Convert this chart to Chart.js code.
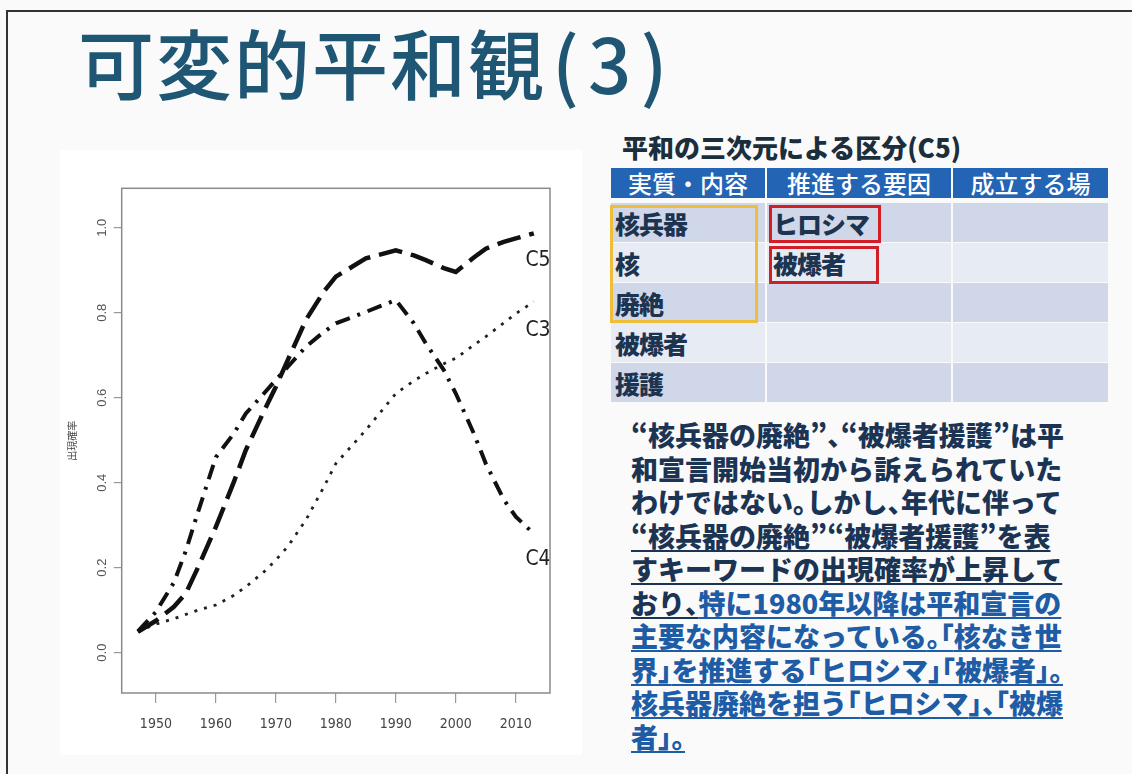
<!DOCTYPE html>
<html lang="ja">
<head>
<meta charset="utf-8">
<script src="https://cdn.jsdelivr.net/npm/chart.js@4"></script>
<style>
  html, body { margin:0; padding:0; }
  body { width:1132px; height:774px; position:relative; overflow:hidden; background:#fafafa; font-family:"Noto Sans CJK JP", sans-serif; }
  .frame { position:absolute; left:6px; top:10px; right:-4px; bottom:-4px; border-left:2px solid #333; border-top:2px solid #333; }
  .title { position:absolute; left:78px; top:23px; font-size:76px; line-height:76px; font-weight:500; color:#1e5673; white-space:nowrap; letter-spacing:2px; }
  .title .p { letter-spacing:9px; padding-left:6px; }
  .panel { position:absolute; left:60px; top:150px; width:522px; height:605px; background:#fff; }
  #chart { position:absolute; left:60px; top:150px; }
  .sub { position:absolute; left:622px; top:132px; font-size:26px; line-height:30px; font-weight:900; color:#1b2e3c; white-space:nowrap; letter-spacing:0; }
  .hdr { position:absolute; top:168px; height:30px; background:#2364b4; color:#fff; font-size:24px; line-height:30px; text-align:center; font-weight:500; white-space:nowrap; }
  .cell { position:absolute; height:39px; }
  .d { background:#cfd7e8; }
  .l { background:#e7ebf4; }
  .ct { position:absolute; font-size:25px; line-height:39px; font-weight:900; color:#1d3450; white-space:nowrap; letter-spacing:-1px; }
  .ybox { position:absolute; left:610px; top:205px; width:142px; height:112px; border:3px solid #eebd3a; }
  .rbox { position:absolute; border:3px solid #d21f26; }
  .para { position:absolute; left:631px; top:418px; font-size:27px; line-height:33.5px; font-weight:900; color:#1c3454; white-space:nowrap; letter-spacing:0; }
  .u { text-decoration:underline; text-decoration-thickness:2px; text-underline-offset:3px; }
  .b { color:#1e5ca6; }
  .h { font-feature-settings:"halt"; }
</style>
</head>
<body>
<div class="frame"></div>
<div class="title">可変的平和観<span class="p">(3)</span></div>
<div class="panel"></div>
<canvas id="chart" width="522" height="605"></canvas>

<div class="sub">平和の三次元による区分(C5)</div>
<div class="hdr" style="left:611px;width:154px;">実質・内容</div>
<div class="hdr" style="left:767px;width:184px;">推進する要因</div>
<div class="hdr" style="left:953px;width:155px;">成立する場</div>

<div class="cell d" style="left:611px;top:203px;width:154px;"></div>
<div class="cell d" style="left:767px;top:203px;width:184px;"></div>
<div class="cell d" style="left:953px;top:203px;width:155px;"></div>
<div class="cell l" style="left:611px;top:243px;width:154px;"></div>
<div class="cell l" style="left:767px;top:243px;width:184px;"></div>
<div class="cell l" style="left:953px;top:243px;width:155px;"></div>
<div class="cell d" style="left:611px;top:283px;width:154px;"></div>
<div class="cell d" style="left:767px;top:283px;width:184px;"></div>
<div class="cell d" style="left:953px;top:283px;width:155px;"></div>
<div class="cell l" style="left:611px;top:323px;width:154px;"></div>
<div class="cell l" style="left:767px;top:323px;width:184px;"></div>
<div class="cell l" style="left:953px;top:323px;width:155px;"></div>
<div class="cell d" style="left:611px;top:363px;width:154px;"></div>
<div class="cell d" style="left:767px;top:363px;width:184px;"></div>
<div class="cell d" style="left:953px;top:363px;width:155px;"></div>

<div class="ct" style="left:615px;top:204px;">核兵器</div>
<div class="ct" style="left:615px;top:244px;">核</div>
<div class="ct" style="left:615px;top:284px;">廃絶</div>
<div class="ct" style="left:615px;top:324px;">被爆者</div>
<div class="ct" style="left:615px;top:364px;">援護</div>
<div class="ct" style="left:773px;top:204px;">ヒロシマ</div>
<div class="ct" style="left:773px;top:244px;">被爆者</div>

<div class="ybox"></div>
<div class="rbox" style="left:769px;top:205px;width:106px;height:32px;"></div>
<div class="rbox" style="left:769px;top:246px;width:104px;height:32px;"></div>

<div class="para">“核兵器の廃絶”<span class="h">、</span>“被爆者援護”は平<br>和宣言開始当初から訴えられていた<br>わけではない<span class="h">。</span>しかし<span class="h">、</span>年代に伴って<br><span class="u">“核兵器の廃絶”“被爆者援護”を表</span><br><span class="u">すキーワードの出現確率が上昇して</span><br><span class="u">おり<span class="h">、</span></span><span class="u b">特に1980年以降は平和宣言の</span><br><span class="u b">主要な内容になっている<span class="h">。「</span>核なき世</span><br><span class="u b">界<span class="h">」</span>を推進する<span class="h">「</span>ヒロシマ<span class="h">」「</span>被爆者<span class="h">」。</span></span><br><span class="u b">核兵器廃絶を担う<span class="h">「</span>ヒロシマ<span class="h">」、「</span>被爆</span><br><span class="u b">者<span class="h">」。</span></span></div>

<script>
// ---- data ----
const years = [1947, 1950, 1953, 1955, 1957, 1960, 1963, 1965, 1968, 1970, 1972, 1975, 1978, 1980, 1985, 1990, 1993, 1995, 1998, 2000, 2003, 2005, 2008, 2010, 2013];
const c5Values = [0.049, 0.075, 0.108, 0.140, 0.200, 0.296, 0.402, 0.477, 0.568, 0.626, 0.689, 0.783, 0.850, 0.885, 0.928, 0.947, 0.935, 0.924, 0.905, 0.896, 0.930, 0.951, 0.967, 0.975, 0.987];
const c4Values = [0.050, 0.096, 0.165, 0.240, 0.330, 0.460, 0.516, 0.563, 0.610, 0.642, 0.673, 0.720, 0.755, 0.775, 0.802, 0.830, 0.775, 0.728, 0.665, 0.610, 0.516, 0.445, 0.360, 0.320, 0.280];
const c3Values = [0.050, 0.067, 0.080, 0.090, 0.100, 0.112, 0.135, 0.155, 0.190, 0.218, 0.250, 0.312, 0.390, 0.445, 0.524, 0.610, 0.640, 0.657, 0.680, 0.693, 0.724, 0.744, 0.776, 0.798, 0.826];
const seriesNames = ['C5', 'C4', 'C3'];
const labelYears = [2013.7, 2013.7, 2013.7];
const labelValues = [0.922, 0.218, 0.759];
const yTickValues = [0, 0.2, 0.4, 0.6, 0.8, 1.0];
const xTickYears = [1950, 1960, 1970, 1980, 1990, 2000, 2010];
const yAxisTitle = '出現確率';

const toPoints = vals => years.map((y, i) => ({ x: y, y: vals[i] }));

const framePlugin = {
  id: 'frame',
  afterDraw(chart) {
    const { ctx, chartArea: a } = chart;
    ctx.save();
    ctx.strokeStyle = '#8a8a8a';
    ctx.lineWidth = 1.5;
    ctx.strokeRect(a.left, a.top, a.right - a.left, a.bottom - a.top);
    ctx.restore();
  }
};

const seriesLabelPlugin = {
  id: 'seriesLabels',
  afterDatasetsDraw(chart) {
    const { ctx, scales: { x, y } } = chart;
    ctx.save();
    ctx.fillStyle = '#222';
    ctx.font = '21px "Liberation Sans Narrow", "DejaVu Sans Condensed", sans-serif';
    ctx.textAlign = 'center';
    ctx.textBaseline = 'middle';
    seriesNames.forEach((n, i) => {
      ctx.fillText(n, x.getPixelForValue(labelYears[i]), y.getPixelForValue(labelValues[i]));
    });
    ctx.restore();
  }
};

new Chart(document.getElementById('chart'), {
  type: 'line',
  data: {
    datasets: [
      { label: 'C5', data: toPoints(c5Values), borderColor: '#111', borderWidth: 4.5, borderDash: [24, 9], pointRadius: 0, tension: 0, fill: false },
      { label: 'C4', data: toPoints(c4Values), borderColor: '#111', borderWidth: 4, borderDash: [15, 8, 3, 8], pointRadius: 0, tension: 0, fill: false },
      { label: 'C3', data: toPoints(c3Values), borderColor: '#222', borderWidth: 2.8, borderDash: [3, 7], pointRadius: 0, tension: 0, fill: false }
    ]
  },
  options: {
    responsive: false,
    animation: false,
    devicePixelRatio: 1,
    layout: { padding: { left: 0, top: 38.3, right: 32, bottom: 0 } },
    plugins: { legend: { display: false }, tooltip: { enabled: false } },
    scales: {
      x: {
        type: 'linear',
        min: 1944.3, max: 2015.7,
        afterFit: s => { s.height = 62; },
        afterBuildTicks: s => { s.ticks = xTickYears.map(v => ({ value: v })); },
        border: { display: false },
        grid: { drawOnChartArea: false, drawTicks: true, tickLength: 10, color: '#999', lineWidth: 1.2 },
        ticks: { padding: 13, color: '#444', font: { family: '"Liberation Sans Narrow", "DejaVu Sans Condensed", sans-serif', size: 14 }, callback: v => String(v), maxRotation: 0, autoSkip: false }
      },
      y: {
        type: 'linear',
        min: -0.095, max: 1.093,
        afterFit: s => { s.width = 61.7; },
        afterBuildTicks: s => { s.ticks = yTickValues.map(v => ({ value: v })); },
        border: { display: false },
        grid: { drawOnChartArea: false, drawTicks: true, tickLength: 8, color: '#999', lineWidth: 1.2 },
        ticks: { padding: 2, crossAlign: 'center', minRotation: 90, maxRotation: 90, color: '#555', font: { family: '"Liberation Sans", Arial, sans-serif', size: 13 }, callback: v => v.toFixed(1), autoSkip: false },
        title: { display: true, text: yAxisTitle, color: '#444', font: { family: '"Noto Sans CJK JP", sans-serif', size: 10 }, padding: { top: 6, bottom: 0 } }
      }
    }
  },
  plugins: [framePlugin, seriesLabelPlugin]
});
</script>
</body>
</html>
